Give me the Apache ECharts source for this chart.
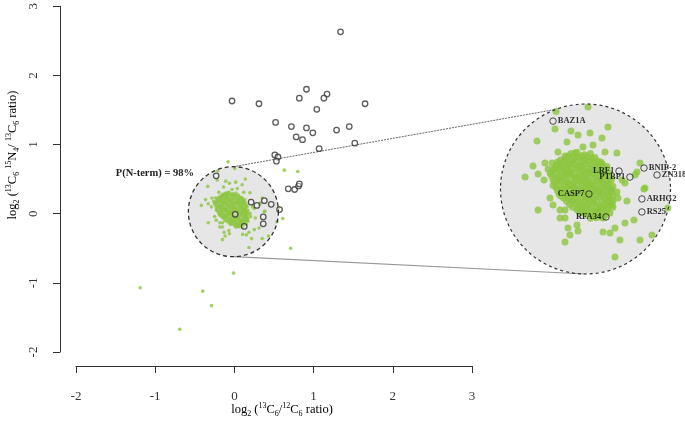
<!DOCTYPE html>
<html><head><meta charset="utf-8">
<script src="https://cdn.jsdelivr.net/npm/echarts@6/dist/echarts.min.js"></script>
<style>html,body{margin:0;padding:0;background:#fff}#c{width:685px;height:434px}</style>
</head><body><div id="c"></div>
<script>
// ---------- data ----------
const xTicks = [-2, -1, 0, 1, 2, 3];
const yTicks = [-2, -1, 0, 1, 2, 3];

// dense core of green (quantified, unchanged) points
const greenCore = [
 [-0.15,0.28],[-0.11,0.30],[-0.07,0.31],[-0.02,0.29],[0.02,0.30],
 [-0.18,0.25],[-0.14,0.26],[-0.10,0.25],[-0.06,0.27],[-0.02,0.25],[0.03,0.26],[0.07,0.24],
 [-0.21,0.21],[-0.17,0.22],[-0.13,0.21],[-0.09,0.22],[-0.05,0.21],[-0.01,0.22],[0.03,0.21],[0.07,0.20],[0.10,0.22],
 [-0.23,0.17],[-0.19,0.18],[-0.15,0.17],[-0.11,0.16],[-0.07,0.18],[-0.03,0.17],[0.01,0.16],[0.05,0.17],[0.09,0.16],[0.12,0.18],
 [-0.24,0.13],[-0.20,0.12],[-0.16,0.13],[-0.12,0.14],[-0.08,0.12],[-0.04,0.13],[0.00,0.12],[0.04,0.14],[0.08,0.12],[0.12,0.13],[0.15,0.12],
 [-0.22,0.08],[-0.18,0.09],[-0.14,0.08],[-0.10,0.07],[-0.06,0.09],[-0.02,0.08],[0.02,0.07],[0.06,0.09],[0.10,0.08],[0.14,0.07],
 [-0.21,0.04],[-0.17,0.03],[-0.13,0.05],[-0.09,0.04],[-0.05,0.03],[-0.01,0.04],[0.03,0.05],[0.07,0.03],[0.11,0.04],[0.15,0.03],
 [-0.19,-0.01],[-0.15,0.00],[-0.11,-0.01],[-0.07,0.01],[-0.03,0.00],[0.01,-0.01],[0.05,0.01],[0.09,0.00],[0.13,-0.01],[0.16,0.01],
 [-0.16,-0.04],[-0.12,-0.05],[-0.08,-0.03],[-0.04,-0.05],[0.00,-0.04],[0.04,-0.05],[0.08,-0.03],[0.12,-0.05],[0.15,-0.04],
 [-0.12,-0.09],[-0.08,-0.08],[-0.04,-0.10],[0.00,-0.09],[0.04,-0.08],[0.08,-0.10],[0.12,-0.09],[0.16,-0.08],
 [-0.07,-0.13],[-0.03,-0.14],[0.01,-0.13],[0.05,-0.14],[0.09,-0.12],[0.13,-0.13],
 [0.00,-0.17],[0.04,-0.18],[0.08,-0.16],[0.12,-0.17]
];
// more core points lying between those above
const greenCore2 = [
 [-0.13,0.28],[-0.09,0.275],[-0.04,0.28],[0.00,0.275],[0.05,0.27],
 [-0.20,0.235],[-0.16,0.24],[-0.12,0.23],[-0.08,0.24],[-0.04,0.235],[0.01,0.24],[0.05,0.23],[0.09,0.235],
 [-0.22,0.19],[-0.18,0.195],[-0.14,0.19],[-0.10,0.19],[-0.06,0.195],[-0.02,0.19],[0.02,0.185],[0.06,0.19],[0.10,0.19],[0.13,0.20],
 [-0.25,0.15],[-0.21,0.15],[-0.17,0.155],[-0.13,0.15],[-0.09,0.145],[-0.05,0.15],[-0.01,0.145],[0.03,0.155],[0.07,0.15],[0.11,0.145],[0.14,0.155],
 [-0.23,0.10],[-0.19,0.105],[-0.15,0.11],[-0.11,0.10],[-0.07,0.105],[-0.03,0.10],[0.01,0.095],[0.05,0.11],[0.09,0.10],[0.13,0.095],[0.16,0.10],
 [-0.23,0.055],[-0.19,0.06],[-0.15,0.065],[-0.11,0.055],[-0.07,0.06],[-0.03,0.065],[0.01,0.055],[0.05,0.06],[0.09,0.065],[0.13,0.055],[0.17,0.05],
 [-0.20,0.015],[-0.16,0.02],[-0.12,0.025],[-0.08,0.02],[-0.04,0.015],[0.00,0.025],[0.04,0.02],[0.08,0.015],[0.12,0.02],[0.16,0.025],
 [-0.18,-0.025],[-0.14,-0.02],[-0.10,-0.025],[-0.06,-0.015],[-0.02,-0.02],[0.02,-0.025],[0.06,-0.02],[0.10,-0.015],[0.14,-0.025],[0.17,-0.02],
 [-0.14,-0.065],[-0.10,-0.06],[-0.06,-0.07],[-0.02,-0.065],[0.02,-0.06],[0.06,-0.07],[0.10,-0.065],[0.14,-0.06],[0.17,-0.065],
 [-0.10,-0.11],[-0.06,-0.115],[-0.02,-0.105],[0.02,-0.11],[0.06,-0.115],[0.10,-0.11],[0.14,-0.105],[0.17,-0.11],
 [-0.05,-0.155],[-0.01,-0.15],[0.03,-0.16],[0.07,-0.145],[0.11,-0.15],[0.15,-0.155],
 [0.02,-0.195],[0.06,-0.19],[0.10,-0.185]
];
// sparser green points inside the highlighted disc
const greenNear = [
 [0.004,0.654],[-0.21,0.62],[-0.337,0.395],[-0.217,0.486],[-0.110,0.471],[-0.063,0.441],[-0.137,0.387],
 [-0.030,0.349],[-0.197,0.311],[-0.083,0.303],[-0.364,0.204],[-0.284,0.227],[-0.237,0.227],[-0.417,0.120],
 [-0.330,0.143],[-0.290,0.098],[-0.263,0.181],[0.137,0.502],[0.017,0.456],[0.097,0.418],[0.037,0.364],
 [0.117,0.311],[0.197,0.303],[0.351,0.227],[0.331,0.159],[0.384,0.037],[0.251,0.075],[0.318,0.136],
 [0.231,0.098],[-0.330,-0.131],[-0.230,-0.093],[-0.183,-0.131],[-0.150,-0.131],[-0.183,-0.192],[-0.150,-0.192],
 [-0.130,-0.268],[-0.070,-0.245],[-0.063,-0.291],[-0.117,-0.322],[-0.150,-0.375],[-0.250,-0.040],[0.378,0.029],
 [0.264,-0.062],[0.538,-0.116],[0.104,-0.192],[0.184,-0.268],[0.251,-0.230],[0.311,-0.207],[0.104,-0.299],
 [0.151,-0.306],[0.217,-0.360],[0.351,-0.360],[0.431,-0.322],[0.184,-0.489],[0.164,-0.093],[0.204,-0.040],[0.197,0.006]
];
// green points outside the disc
const greenFar = [
 [-1.19,-1.07],[-0.40,-1.12],[-0.29,-1.33],[-0.69,-1.67],[-0.01,-0.86],
 [0.63,0.63],[0.80,0.61],[0.61,-0.07],[0.71,-0.50],[0.56,0.09],[-0.08,0.75]
];
// open (N-terminally processed) points outside the disc
const blackFar = [
 [1.34,2.63],[0.91,1.80],[1.17,1.73],[0.82,1.67],[1.13,1.67],[-0.03,1.63],[0.31,1.59],[1.65,1.59],
 [1.04,1.51],[0.52,1.32],[0.72,1.26],[0.91,1.24],[1.45,1.26],[1.29,1.21],[0.99,1.17],[0.78,1.11],
 [0.86,1.07],[1.52,1.02],[1.07,0.94],[0.51,0.85],[0.55,0.82],[0.53,0.76],[0.68,0.36],[0.76,0.35],
 [0.81,0.40],[0.82,0.43],[0.57,0.06]
];
// named open points inside the disc
const blackNames = ['BAZ1A','LRF1','PTBP1','BNIP-2','ZN318','CASP7','ARHG2','RS25','RFA34'];
const blackNear = [
 [-0.230,0.547],[0.211,0.166],[0.284,0.120],[0.378,0.189],[0.465,0.136],
 [0.010,-0.009],[0.364,-0.047],[0.364,-0.146],[0.124,-0.184]
];
const pctText = 'P(N-term) = 98%';
const zoomCentre = [-0.013, 0.029];   // data point at the centre of the magnified disc

// ---------- layout / style ----------
const labelSide = {'BAZ1A':'right','LRF1':'left','PTBP1':'left','BNIP-2':'right','ZN318':'right',
                   'CASP7':'left','ARHG2':'right','RS25':'right','RFA34':'left'};
const FONT = '"Liberation Serif","Times New Roman",serif';
const GREEN = '#8cc63f';
const G0 = {left:76, top:5, width:396, height:347};
const RS = 45;                              // small disc radius (px)
const INSET = {cx:585.5, cy:189, r:85};     // magnified disc
const pxX = G0.width / (xTicks[xTicks.length-1] - xTicks[0]);
const pxY = G0.height / (yTicks[yTicks.length-1] - yTicks[0]);
const mag = INSET.r / RS;
const hx = INSET.r / (pxX * mag), hy = INSET.r / (pxY * mag);

const greenAll = greenCore.concat(greenCore2, greenNear, greenFar);
const blackNamedItems = blackNear.map((v, i) => ({
  name: blackNames[i], value: v,
  label: {show: true, position: labelSide[blackNames[i]]}
}));
const blackAllMain = blackFar.concat(blackNear);

const axisCommon = {
  type: 'value', splitLine: {show: false},
  axisLine: {show: true, onZero: false, lineStyle: {color: '#333', width: 1}},
  axisTick: {show: true, length: 7, lineStyle: {color: '#333'}},
  axisLabel: {color: '#333', fontFamily: FONT, fontSize: 13}
};
const hiddenAxis = {type: 'value', show: false, splitLine: {show: false}};

const chart = echarts.init(document.getElementById('c'), null, {renderer: 'canvas'});
const option = {
  animation: false,
  backgroundColor: '#fff',
  grid: [
    {left: G0.left, top: G0.top, width: G0.width, height: G0.height},
    {left: INSET.cx - INSET.r, top: INSET.cy - INSET.r, width: 2*INSET.r, height: 2*INSET.r}
  ],
  xAxis: [
    Object.assign({}, axisCommon, {gridIndex: 0, min: xTicks[0], max: xTicks[xTicks.length-1], interval: 1,
      position: 'bottom', offset: 14, axisLabel: Object.assign({}, axisCommon.axisLabel, {margin: 24})}),
    Object.assign({}, hiddenAxis, {gridIndex: 1, min: zoomCentre[0]-hx, max: zoomCentre[0]+hx})
  ],
  yAxis: [
    Object.assign({}, axisCommon, {gridIndex: 0, min: yTicks[0], max: yTicks[yTicks.length-1], interval: 1,
      position: 'left', offset: 16, axisLabel: Object.assign({}, axisCommon.axisLabel, {rotate: 90, margin: 20})}),
    Object.assign({}, hiddenAxis, {gridIndex: 1, min: zoomCentre[1]-hy, max: zoomCentre[1]+hy})
  ],
  series: [
    {type: 'scatter', xAxisIndex: 0, yAxisIndex: 0, data: greenAll, symbolSize: 3.6,
     itemStyle: {color: GREEN}, z: 3, silent: true},
    {type: 'scatter', xAxisIndex: 0, yAxisIndex: 0, data: blackAllMain, symbolSize: 5.5,
     itemStyle: {color: 'rgba(255,255,255,0.5)', borderColor: '#333', borderWidth: 1.3}, z: 4, silent: true},
    {type: 'scatter', xAxisIndex: 1, yAxisIndex: 1, data: greenAll, symbolSize: 7, clip: true,
     itemStyle: {color: GREEN}, z: 3, silent: true},
    {type: 'scatter', xAxisIndex: 1, yAxisIndex: 1, data: blackFar, symbolSize: 6.5, clip: true,
     itemStyle: {color: 'rgba(0,0,0,0)', borderColor: '#222', borderWidth: 1}, z: 4, silent: true},
    {type: 'scatter', xAxisIndex: 1, yAxisIndex: 1, data: blackNamedItems, symbolSize: 6.5, clip: true,
     itemStyle: {color: 'rgba(0,0,0,0)', borderColor: '#222', borderWidth: 1}, z: 4, silent: true,
     label: {show: true, formatter: '{b}', color: '#000', fontFamily: FONT, fontWeight: 'bold', fontSize: 8.5, distance: 1}}
  ]
};
chart.setOption(option);

// annotation shapes anchored to the axes
const sc = chart.convertToPixel({xAxisIndex: 0, yAxisIndex: 0}, zoomCentre);
const ang = Math.atan2(-81, -30.5);
const richTitle = {
  b: {fontSize: 12.5, lineHeight: 16, fontFamily: FONT, color: '#222'},
  p: {fontSize: 8, lineHeight: 9, verticalAlign: 'top', fontFamily: FONT, color: '#222'},
  s: {fontSize: 8, lineHeight: 9, verticalAlign: 'bottom', fontFamily: FONT, color: '#222'}
};
chart.setOption({
  graphic: [
    {type: 'circle', z: 1, shape: {cx: sc[0], cy: sc[1], r: RS},
     style: {fill: '#e6e6e6', stroke: null}},
    {type: 'circle', z: 10, shape: {cx: sc[0], cy: sc[1], r: RS},
     style: {fill: null, stroke: '#333', lineWidth: 1.3, lineDash: [4, 3]}},
    {type: 'circle', z: 1, shape: {cx: INSET.cx, cy: INSET.cy, r: INSET.r},
     style: {fill: '#e6e6e6', stroke: null}},
    {type: 'circle', z: 10, shape: {cx: INSET.cx, cy: INSET.cy, r: INSET.r},
     style: {fill: null, stroke: '#333', lineWidth: 1.2, lineDash: [3, 3]}},
    {type: 'line', z: 2, shape: {x1: sc[0], y1: sc[1] - RS,
      x2: INSET.cx + INSET.r*Math.cos(ang), y2: INSET.cy + INSET.r*Math.sin(ang)},
     style: {stroke: '#666', lineWidth: 1, lineDash: [2, 1]}},
    {type: 'line', z: 2, shape: {x1: sc[0], y1: sc[1] + RS, x2: INSET.cx, y2: INSET.cy + INSET.r},
     style: {stroke: '#999', lineWidth: 1.2}},
    {type: 'text', z: 10, x: 194, y: 173,
     style: {text: pctText, font: 'bold 10.5px ' + FONT, fill: '#222', align: 'right', verticalAlign: 'middle'}},
    {type: 'text', z: 10, x: 282, y: 410,
     style: {text: '{b|log}{s|2}{b| (}{p|13}{b|C}{s|6}{b|/}{p|12}{b|C}{s|6}{b| ratio)}',
       rich: richTitle, align: 'center', verticalAlign: 'middle'}},
    {type: 'text', z: 10, x: 13, y: 155, rotation: Math.PI/2,
     style: {text: '{b|log}{s|2}{b| (}{p|13}{b|C}{s|6}{b| }{p|15}{b|N}{s|4}{b|/ }{p|13}{b|C}{s|6}{b| ratio)}',
       rich: richTitle, align: 'center', verticalAlign: 'middle'}}
  ]
});
</script></body></html>
